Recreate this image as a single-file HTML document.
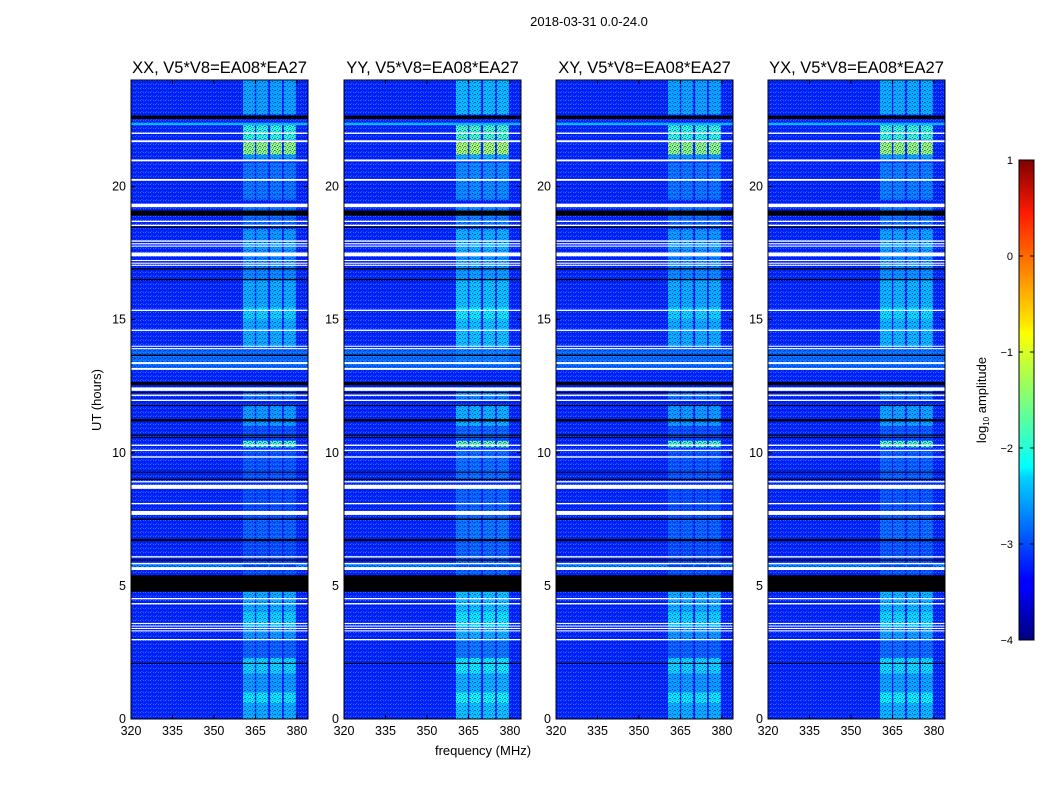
<!DOCTYPE html>
<html><head><meta charset="utf-8">
<style>
html,body{margin:0;padding:0;background:#fff;}
body{width:1050px;height:800px;overflow:hidden;font-family:"Liberation Sans",sans-serif;}
svg text{font-family:"Liberation Sans",sans-serif;}
</style></head>
<body>
<svg id="fig" width="1050" height="800" viewBox="0 0 1050 800" xmlns="http://www.w3.org/2000/svg">
<defs>
<linearGradient id="jet" x1="0" y1="1" x2="0" y2="0">
<stop offset="0" stop-color="#00007f"/><stop offset="0.11" stop-color="#0000ff"/>
<stop offset="0.125" stop-color="#0000ff"/><stop offset="0.34" stop-color="#00d4ff"/>
<stop offset="0.36" stop-color="#0ff"/><stop offset="0.5" stop-color="#7dff7a"/>
<stop offset="0.64" stop-color="#ff0"/><stop offset="0.66" stop-color="#ffe600"/>
<stop offset="0.89" stop-color="#ff1a00"/><stop offset="1" stop-color="#7f0000"/>
</linearGradient>
<pattern id="noise" width="5" height="4" patternUnits="userSpaceOnUse">
<rect x="0" y="0" width="1" height="1" fill="#3a8cff" opacity="0.7"/>
<rect x="2" y="1" width="1" height="1" fill="#0010c0" opacity="0.7"/>
<rect x="1" y="3" width="1" height="1" fill="#2a70ff" opacity="0.6"/>
<rect x="4" y="2" width="1" height="1" fill="#0018b0" opacity="0.6"/>
<rect x="3" y="0" width="1" height="1" fill="#4aa0ff" opacity="0.5"/>
<rect x="0" y="2" width="1" height="1" fill="#0000a0" opacity="0.5"/>
<rect x="3" y="3" width="1" height="1" fill="#0030e0" opacity="0.5"/>
</pattern>
</defs>
<text x="589" y="26" font-size="13" text-anchor="middle">2018-03-31 0.0-24.0</text>
<text transform="translate(101,400) rotate(-90)" font-size="13" text-anchor="middle">UT (hours)</text>
<text x="483" y="755" font-size="13" text-anchor="middle">frequency (MHz)</text>
<g id="panels"></g>
<g id="cbar">
<rect x="1019" y="160" width="15" height="480" fill="url(#jet)" stroke="#000" stroke-width="1"/>
<text transform="translate(986,400) rotate(-90)" font-size="13" text-anchor="middle">log<tspan font-size="8" dy="3">10</tspan><tspan dy="-3"> amplitude</tspan></text>
</g>
</svg>
<script>
// ---- data ----
const panelTitles = ["XX, V5*V8=EA08*EA27","YY, V5*V8=EA08*EA27","XY, V5*V8=EA08*EA27","YX, V5*V8=EA08*EA27"];
const xTicks = [320,335,350,365,380];
const yTicks = [0,5,10,15,20];
const cbarTicks = [1,0,-1,-2,-3,-4];
const subbands = [[360.5,364.8],[365.3,369.5],[370.3,374.6],[375.3,379.6]];
const backgroundLevel = -3.2;
// band segments: start hour, end hour, log amplitude
const bandStart = [0,0.6,1.0,1.7,2.3,3.0,3.5,4.0,4.8,5.6,6.7,7.5,9.0,10.2,10.5,11.0,12.0,13.3,14.0,15.0,15.5,16.5,17.5,18.5,19.5,21.0,21.2,21.75,22.7];
const bandEnd   = [0.6,1.0,1.7,2.3,3.0,3.5,4.0,4.8,5.6,6.7,7.5,8.7,10.1,10.45,11.0,11.8,12.4,14.0,15.0,15.5,16.5,17.4,18.4,19.3,20.9,21.2,21.7,22.3,24.0];
const bandLevel = [-2.5,-2.2,-2.6,-2.3,-2.9,-2.6,-2.3,-2.5,-3.0,-3.0,-2.9,-3.0,-2.95,-1.8,-3.0,-2.6,-2.8,-2.85,-2.5,-2.3,-2.5,-2.7,-2.6,-2.85,-2.8,-2.6,-1.4,-1.9,-2.55];
const panelBoost = [0,0.12,0,0.05];
// full-width elevated rows: start, end, level
const wideStart = [13.1,22.3,5.7];
const wideEnd   = [13.9,22.4,5.85];
const wideLevel = [-2.85,-2.4,-2.7];
// flagged rows (white): centre hour, thickness hours
const whiteHour = [22.0,21.7,20.98,20.25,19.29,18.69,18.54,17.95,17.85,17.76,17.45,17.22,17.12,17.04,15.35,14.6,14.0,13.91,13.37,13.15,12.39,12.16,11.97,10.28,10.09,9.84,8.91,8.72,8.09,7.74,6.09,5.84,5.65,4.52,4.33,3.59,3.49,3.40,3.31,2.98];
const whiteThick = [0.05,0.07,0.07,0.07,0.13,0.05,0.05,0.05,0.04,0.04,0.14,0.04,0.04,0.04,0.05,0.05,0.04,0.04,0.07,0.07,0.13,0.05,0.05,0.05,0.05,0.05,0.05,0.15,0.05,0.15,0.05,0.05,0.11,0.05,0.05,0.04,0.04,0.04,0.04,0.05];
// black rows: centre hour, thickness hours
const blackHour = [22.6,19.0,18.47,16.91,16.5,13.66,12.6,12.27,11.78,11.22,10.66,10.58,9.27,9.0,7.5,6.72,5.97,5.09,2.09];
const blackThick = [0.13,0.19,0.05,0.05,0.05,0.05,0.12,0.04,0.04,0.09,0.04,0.04,0.04,0.04,0.05,0.08,0.05,0.62,0.03];

// ---- geometry ----
const panelLeft = [131,344,556,768];
const PW = 177, PT = 80, PB = 719;
const fMin = 320, fMax = 384, hMin = 0, hMax = 24;
const NS = "http://www.w3.org/2000/svg";
function xScale(p,f){return panelLeft[p] + (f-fMin)/(fMax-fMin)*PW;}
function yScale(h){return PB - (h-hMin)/(hMax-hMin)*(PB-PT);}
function jet(x){
  let v=(x+4)/5; v=Math.max(0,Math.min(1,v));
  const c=t=>Math.round(255*Math.max(0,Math.min(1,t)));
  return `rgb(${c(1.5-Math.abs(4*v-3))},${c(1.5-Math.abs(4*v-2))},${c(1.5-Math.abs(4*v-1))})`;
}
function mk(tag,attrs,parent){const e=document.createElementNS(NS,tag);for(const k in attrs)e.setAttribute(k,attrs[k]);parent.appendChild(e);return e;}

const panels=document.getElementById('panels');
for(let p=0;p<4;p++){
  const g=mk('g',{},panels);
  
  
  const bg=mk('rect',{x:panelLeft[p],y:PT,width:PW,height:PB-PT,fill:jet(backgroundLevel)},g);
  
  
  for(let i=0;i<wideStart.length;i++){
    const r=mk('rect',{x:panelLeft[p],y:yScale(wideEnd[i]),width:PW,height:yScale(wideStart[i])-yScale(wideEnd[i]),fill:jet(wideLevel[i])},g);
    
    
  }
  for(const sb of subbands){
    for(let i=0;i<bandStart.length;i++){
      const r=mk('rect',{x:xScale(p,sb[0]),y:yScale(bandEnd[i]),width:xScale(p,sb[1])-xScale(p,sb[0]),height:yScale(bandStart[i])-yScale(bandEnd[i]),fill:jet(bandLevel[i]+panelBoost[p])},g);
      
      
    }
  }
  const nz=mk('rect',{x:panelLeft[p],y:PT,width:PW,height:PB-PT,fill:'url(#noise)'},g);
  
  
  for(let i=0;i<blackHour.length;i++){
    const t=Math.max(blackThick[i]*(PB-PT)/24,1);
    const r=mk('rect',{x:panelLeft[p],y:yScale(blackHour[i])-t/2,width:PW,height:t,fill:'#000'},g);
    
    
  }
  for(let i=0;i<whiteHour.length;i++){
    const t=Math.max(whiteThick[i]*(PB-PT)/24,1);
    const r=mk('rect',{x:panelLeft[p],y:yScale(whiteHour[i])-t/2,width:PW,height:t,fill:'#fff'},g);
    
    
  }
  const fr=mk('rect',{x:panelLeft[p],y:PT,width:PW,height:PB-PT,fill:'none',stroke:'#000','stroke-width':1},g);
  
  
  const tt=mk('text',{x:panelLeft[p]+PW/2,y:PT-7,'font-size':16.5,'text-anchor':'middle'},g);
  tt.textContent=panelTitles[p];
  
  
  for(const f of xTicks){
    const x=xScale(p,f);
    mk('line',{x1:x,x2:x,y1:PB,y2:PB-4,stroke:'#000'},g);
    mk('line',{x1:x,x2:x,y1:PT,y2:PT+4,stroke:'#000'},g);
    const t=mk('text',{x:x,y:PB+16,'font-size':12.5,'text-anchor':'middle'},g);
    t.textContent=f;
    
    
  }
  for(const h of yTicks){
    const y=yScale(h);
    mk('line',{x1:panelLeft[p],x2:panelLeft[p]+4,y1:y,y2:y,stroke:'#000'},g);
    mk('line',{x1:panelLeft[p]+PW,x2:panelLeft[p]+PW-4,y1:y,y2:y,stroke:'#000'},g);
    const t=mk('text',{x:panelLeft[p]-5,y:y+4,'font-size':12.5,'text-anchor':'end'},g);
    t.textContent=h;
    
    
  }
}
const cb=document.getElementById('cbar');
for(const v of cbarTicks){
  const y=160+(1-v)/5*480;
  mk('line',{x1:1019,x2:1023,y1:y,y2:y,stroke:'#000'},cb);
  mk('line',{x1:1034,x2:1030,y1:y,y2:y,stroke:'#000'},cb);
  const t=mk('text',{x:1013,y:y+4,'font-size':11,'text-anchor':'end'},cb);
  t.textContent=v<0?'\u2212'+Math.abs(v):String(v);
  
  
}
</script>
</body></html>
